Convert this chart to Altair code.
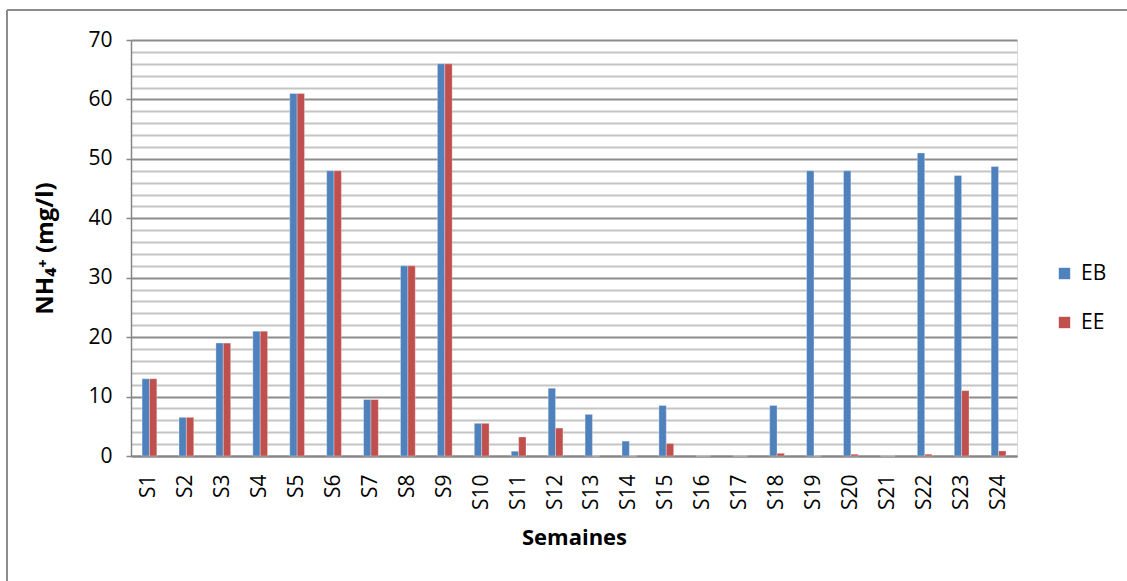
import altair as alt
import pandas as pd

# Weekly NH4+ concentrations (mg/l) for raw (EB) and treated (EE) water
semaines = [f"S{i}" for i in range(1, 25)]
eb = [13, 6.5, 19, 21, 61, 48, 9.5, 32, 66, 5.5, 0.8, 11.4, 7, 2.5, 8.5, 0, 0, 8.5, 48, 48, 0, 51, 47.2, 48.7]
ee = [13, 6.5, 19, 21, 61, 48, 9.5, 32, 66, 5.5, 3.2, 4.7, 0, 0, 2.1, 0, 0, 0.45, 0, 0.3, 0, 0.3, 11, 0.85]
series = ["EB", "EE"]
colors = ["#4F81BD", "#C0504D"]
y_ticks = list(range(0, 71, 2))

rows = []
for s, a, b in zip(semaines, eb, ee):
    rows.append({"Semaine": s, "Série": "EB", "NH4": a})
    rows.append({"Semaine": s, "Série": "EE", "NH4": b})
df = pd.DataFrame(rows)

FONT = "Open Sans"
W, H = 886, 416

bars = alt.Chart(df).mark_bar(stroke="#ffffff", strokeOpacity=0.5, strokeWidth=0.6).encode(
    x=alt.X(
        "Semaine:N",
        sort=semaines,
        scale=alt.Scale(paddingInner=0.6, paddingOuter=0.3),
        axis=alt.Axis(
            title="Semaines",
            titleFont=FONT,
            titleFontSize=22,
            titleFontWeight="bold",
            titleColor="#000000",
            titlePadding=18,
            labelAngle=-90,
            labelAlign="right",
            labelBaseline="middle",
            labelFont=FONT,
            labelFontSize=21,
            labelColor="#000000",
            labelPadding=18,
            ticks=False,
            domainColor="#868686",
            domainWidth=2,
            grid=False,
        ),
    ),
    xOffset=alt.XOffset("Série:N", sort=series),
    y=alt.Y(
        "NH4:Q",
        scale=alt.Scale(domain=[0, 70], nice=False),
        axis=alt.Axis(
            title="NH₄⁺ (mg/l)",
            titleFont=FONT,
            titleFontSize=24,
            titleFontWeight="bold",
            titleColor="#000000",
            titlePadding=30,
            values=y_ticks,
            labelExpr="datum.value % 10 === 0 ? datum.label : ''",
            labelFont=FONT,
            labelFontSize=21,
            labelColor="#000000",
            labelPadding=14,
            tickSize=5,
            tickColor="#868686",
            tickWidth=1.5,
            tickOpacity=alt.condition("datum.value % 10 === 0", alt.value(1), alt.value(0)),
            domainColor="#868686",
            domainWidth=1.5,
            grid=True,
            gridColor=alt.condition("datum.value % 10 === 0", alt.value("#8c8c8c"), alt.value("#c4c4c4")),
            gridWidth=1.8,
        ),
    ),
    color=alt.Color(
        "Série:N",
        sort=series,
        scale=alt.Scale(domain=series, range=colors),
        legend=alt.Legend(
            title=None,
            orient="none",
            legendX=923,
            legendY=223,
            symbolType="square",
            symbolSize=130,
            symbolStrokeWidth=0,
            labelFont=FONT,
            labelFontSize=21,
            labelColor="#000000",
            rowPadding=27,
            labelOffset=6,
        ),
    ),
)

# Outer chart frame (left and top edges)
frame_left = alt.Chart().mark_rule(color="#8c8c8c", strokeWidth=2).encode(
    x=alt.value(-124), y=alt.value(-30), y2=alt.value(600)
)
frame_top = alt.Chart().mark_rule(color="#8c8c8c", strokeWidth=2).encode(
    x=alt.value(-124), x2=alt.value(1100), y=alt.value(-30)
)

chart = alt.layer(bars, frame_left, frame_top).properties(
    width=W,
    height=H,
    autosize=alt.AutoSizeParams(type="none"),
    padding={"left": 131, "top": 40, "right": 110, "bottom": 125},
).configure_view(stroke=None).configure(background="#ffffff")

chart.save("out.html", embed_options={"renderer": "svg", "actions": False})
